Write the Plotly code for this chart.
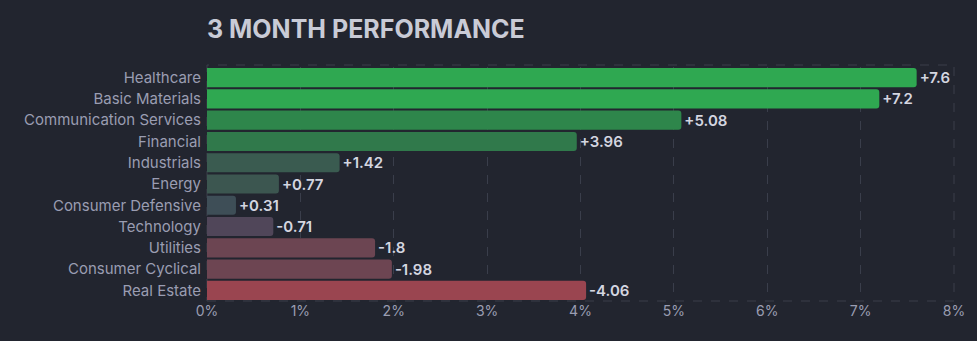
import plotly.graph_objects as go

categories = ["Healthcare", "Basic Materials", "Communication Services", "Financial",
              "Industrials", "Energy", "Consumer Defensive", "Technology",
              "Utilities", "Consumer Cyclical", "Real Estate"]
values = [7.6, 7.2, 5.08, 3.96, 1.42, 0.77, 0.31, -0.71, -1.8, -1.98, -4.06]
bar_colors = ["#2fa851", "#2fa851", "#2e864b", "#30794b", "#3a5b50", "#3c5650",
              "#3e4e57", "#504659", "#6c4552", "#6d4552", "#9a4550"]
tick_vals = [0, 1, 2, 3, 4, 5, 6, 7, 8]
tick_text = ["0%", "1%", "2%", "3%", "4%", "5%", "6%", "7%", "8%"]

labels = [f"{v:+g}" for v in values]
lengths = [abs(v) for v in values]

BG = "#22252f"
GRID = "#3a3e4b"
TOP, BOTTOM = 67, 40
plot_h = 341 - TOP - BOTTOM

fig = go.Figure(go.Bar(
    y=categories, x=lengths, orientation="h",
    marker=dict(color=bar_colors, line=dict(width=0), cornerradius=3),
    text=labels, textposition="outside", cliponaxis=False,
    textfont=dict(family="Inter", size=15, color="#d4d6e0", weight=600),
    hoverinfo="skip",
))

fig.update_layout(
    width=977, height=341,
    paper_bgcolor=BG, plot_bgcolor=BG,
    margin=dict(l=207, r=20, t=TOP, b=BOTTOM),
    bargap=0.1,
    showlegend=False,
    title=dict(text="3 MONTH PERFORMANCE", x=207/977, xanchor="left", xref="container",
               y=1 - 29/341, yanchor="middle", yref="container",
               font=dict(family="Inter", size=25, color="#c9cbd6", weight=700)),
    font=dict(family="Inter", color="#9a9db2", size=14),
    xaxis=dict(range=[0, 8], tickvals=tick_vals, ticktext=tick_text,
               showgrid=True, gridcolor=GRID, griddash="dash", gridwidth=1,
               zeroline=False, showline=False, ticks="", ticklen=0,
               tickfont=dict(size=14, color="#9a9db2")),
    yaxis=dict(autorange="reversed", showgrid=False, zeroline=False, showline=False,
               ticks="", ticklabelstandoff=5,
               tickfont=dict(size=15, color="#9a9db2")),
    shapes=[dict(type="rect", xref="paper", yref="paper", x0=0, x1=1,
                 y0=0, y1=1 + 2 / plot_h,
                 line=dict(color=GRID, width=1, dash="dash"), layer="below")],
)

fig.write_html("out.html")
